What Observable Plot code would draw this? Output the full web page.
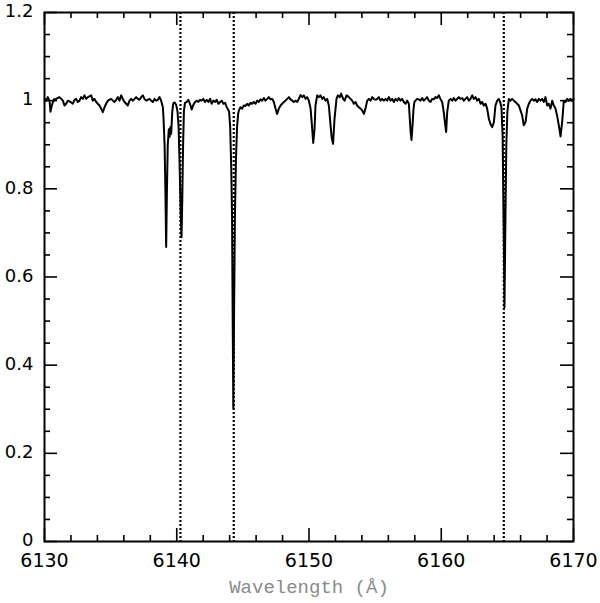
<!DOCTYPE html>
<html><head><meta charset="utf-8">
<script src="https://cdn.jsdelivr.net/npm/d3@7"></script>
<script src="https://cdn.jsdelivr.net/npm/@observablehq/plot@0.6"></script>
<style>body{margin:0;background:#fff;overflow:hidden}</style>
</head><body><div id="chart"></div>
<script>
const wave = [
6130.00,6130.13,6130.25,6130.38,6130.45,6130.55,6130.71,6130.88,6131.13,6131.26,6131.39,6131.51,6131.64,6131.76,6131.97,6132.14,6132.27,6132.39,6132.52,6132.65,6132.77,6132.90,6133.02,6133.15,6133.28,6133.53,6133.65,6133.78,6133.91,6134.03,6134.16,6134.28,6134.41,6134.54,6134.66,6134.79,6135.04,6135.17,6135.29,6135.42,6135.55,6135.67,6135.80,6135.92,6136.05,6136.18,6136.30,6136.43,6136.55,6136.68,6136.81,6136.93,6137.06,6137.18,6137.31,6137.44,6137.56,6137.69,6137.81,6137.94,6138.07,6138.19,6138.32,6138.44,6138.57,6138.70,6138.82,6138.95,
6139.00,6139.08,6139.14,6139.20,6139.26,6139.32,6139.40,6139.46,6139.52,6139.58,6139.66,6139.74,6139.84,6139.96,6140.06,
6140.14,6140.22,6140.30,6140.36,6140.42,6140.48,6140.54,6140.62,
6140.75,6140.88,6141.00,6141.13,6141.25,6141.38,6141.50,6141.63,6141.76,6141.88,6142.01,6142.14,6142.26,6142.39,6142.52,6142.64,6142.77,6142.90,6143.02,6143.15,6143.28,6143.40,6143.53,6143.66,6143.78,6143.88,
6143.96,6144.04,6144.12,6144.18,6144.23,6144.28,6144.33,6144.40,6144.48,6144.56,6144.64,
6144.70,6144.82,6144.95,6145.07,6145.20,6145.33,6145.45,6145.58,6145.70,6145.83,6145.96,6146.08,6146.21,6146.33,6146.46,6146.59,6146.71,6146.84,6146.96,6147.09,6147.22,6147.34,6147.47,6147.59,6147.72,6147.85,6147.97,6148.10,6148.22,6148.35,6148.48,6148.60,6148.73,6148.86,6148.98,6149.11,6149.23,6149.36,6149.49,6149.61,6149.74,6149.86,6149.99,
6150.12,6150.22,6150.32,6150.42,6150.49,6150.62,6150.75,6150.87,6151.00,6151.12,6151.25,6151.38,6151.50,6151.63,6151.72,6151.82,6151.93,6152.08,6152.18,6152.33,6152.43,6152.58,6152.69,6152.84,6153.01,6153.14,6153.27,6153.39,6153.52,6153.64,6153.77,6153.90,6154.02,6154.15,6154.27,6154.40,6154.53,6154.65,6154.78,6154.90,6155.03,6155.16,6155.28,6155.41,6155.53,6155.66,6155.79,6155.91,6156.04,6156.16,6156.29,6156.42,6156.54,
6156.67,6156.79,6156.92,6157.04,6157.17,6157.30,6157.42,6157.55,6157.62,6157.68,6157.75,6157.82,6157.90,6157.97,6158.05,6158.18,6158.30,6158.43,6158.56,6158.68,6158.81,6158.93,6159.06,6159.19,6159.31,6159.44,6159.56,6159.69,6159.82,6159.94,6160.07,6160.19,6160.28,6160.37,6160.45,6160.57,6160.70,6160.83,6160.95,6161.08,6161.20,6161.33,6161.45,6161.58,6161.71,6161.83,6161.96,6162.09,6162.21,6162.34,6162.46,6162.59,6162.72,6162.84,6162.97,6163.09,6163.22,6163.35,6163.47,6163.60,6163.72,6163.85,6163.98,6164.10,6164.23,6164.35,6164.45,
6164.55,6164.64,6164.72,6164.78,6164.84,6164.92,6165.00,6165.11,6165.24,6165.36,6165.49,6165.61,6165.74,6165.87,6165.99,6166.12,6166.24,6166.37,6166.50,6166.62,6166.75,6166.87,6167.00,6167.13,6167.25,6167.38,6167.50,6167.63,6167.76,6167.88,6168.01,6168.13,6168.26,6168.39,6168.51,6168.64,6168.76,6168.89,6169.02,6169.14,6169.27,6169.39,6169.52,6169.65,6169.77,6169.90,6170.00
];
const flux = [
1.004,1.000,1.008,1.000,0.975,0.989,1.003,1.004,1.008,1.004,1.000,0.989,0.993,1.000,0.997,0.993,1.002,1.004,0.997,1.000,1.008,1.004,1.012,1.004,1.008,1.012,1.000,1.004,0.997,0.993,0.989,0.982,0.974,0.985,0.993,1.000,1.004,1.000,0.997,1.002,1.008,1.000,1.012,1.004,0.997,0.993,0.989,1.000,1.004,1.000,1.004,1.008,1.004,1.002,1.008,1.012,1.004,1.000,1.002,1.004,1.000,0.997,1.004,1.000,1.002,1.008,1.000,0.985,
0.960,0.900,0.800,0.668,0.800,0.900,0.935,0.918,0.940,0.925,0.975,0.994,0.996,0.990,0.975,
0.940,0.850,0.740,0.690,0.780,0.900,0.975,0.995,
0.997,1.002,0.993,0.980,0.990,0.997,1.000,0.997,1.002,1.000,1.004,0.997,1.002,0.997,1.004,0.993,1.000,0.997,1.002,0.993,0.997,1.000,0.993,0.995,0.985,0.980,
0.975,0.940,0.850,0.740,0.500,0.302,0.500,0.740,0.870,0.940,0.970,
0.978,0.985,0.982,0.989,0.988,0.993,0.989,0.995,0.993,0.997,0.993,1.000,0.997,1.003,1.000,1.006,1.000,1.004,1.008,1.003,1.004,0.997,0.982,0.970,0.982,0.989,0.993,0.997,1.000,1.004,1.008,1.003,1.000,0.997,1.000,0.997,1.004,1.013,1.008,1.012,1.004,1.008,1.000,
0.982,0.945,0.904,0.936,0.989,1.012,1.008,1.012,1.004,1.008,1.000,1.004,0.989,0.944,0.915,0.902,0.959,1.004,1.012,1.008,1.016,1.004,1.000,1.012,1.008,1.004,1.000,0.993,0.997,0.989,0.985,0.982,0.978,0.970,0.982,1.000,1.004,1.000,1.008,1.004,1.002,1.004,1.008,1.000,1.004,1.000,1.004,1.000,1.008,1.000,1.004,0.997,1.004,
1.000,1.006,1.000,1.004,0.997,0.993,1.000,0.993,0.960,0.930,0.911,0.940,0.980,0.997,1.000,1.004,1.003,1.000,1.006,1.000,1.004,1.008,1.000,0.997,1.004,1.003,1.008,1.006,1.012,1.004,0.997,0.974,0.950,0.929,0.974,1.000,1.004,1.000,1.006,1.000,1.004,1.008,1.004,1.006,1.000,1.004,1.008,1.000,1.004,1.012,1.004,1.008,1.000,1.004,0.993,0.997,0.989,0.993,0.982,0.959,0.947,0.940,0.951,0.989,1.000,1.004,0.997,
0.985,0.920,0.720,0.531,0.700,0.900,0.975,1.004,1.000,1.004,1.000,0.997,0.993,0.989,0.978,0.966,0.944,0.951,0.982,0.993,1.000,1.004,1.000,1.003,0.997,1.004,1.000,1.004,0.997,1.008,0.989,0.993,0.982,1.000,0.989,0.982,0.966,0.944,0.919,0.951,1.000,0.997,1.004,1.000,1.004,1.000,1.004
];
const markerLines = [6140.28, 6144.31, 6164.73];
const xMajor = [6130, 6140, 6150, 6160, 6170];
const xMinor = [6132,6134,6136,6138,6142,6144,6146,6148,6152,6154,6156,6158,6162,6164,6166,6168];
const yMajor = [0, 0.2, 0.4, 0.6, 0.8, 1, 1.2];
const yMinor = [0.05,0.1,0.15,0.25,0.3,0.35,0.45,0.5,0.55,0.65,0.7,0.75,0.85,0.9,0.95,1.05,1.1,1.15];
const xTitle = "Wavelength (Å)";

const spectrum = wave.map((w, i) => ({w, f: flux[i]}));
const mT = 12, mB = 62, mL = 44, mR = 27, Wd = 600, Ht = 603;
const innerH = Ht - mT - mB, innerW = Wd - mL - mR;
const majorLen = 13, minorLen = 6;

const chart = Plot.plot({
  width: Wd, height: Ht,
  marginTop: mT, marginBottom: mB, marginLeft: mL, marginRight: mR,
  style: {fontFamily: "DejaVu Sans", background: "white", color: "black"},
  x: {domain: [6130, 6170], axis: null},
  y: {domain: [0, 1.2], axis: null},
  marks: [
    Plot.ruleX(markerLines, {stroke: "black", strokeWidth: 2.2, strokeDasharray: "2,2"}),
    Plot.line(spectrum, {x: "w", y: "f", stroke: "black", strokeWidth: 2}),
    Plot.ruleX(xMajor, {stroke: "black", strokeWidth: 1.6, insetTop: innerH - majorLen}),
    Plot.ruleX(xMinor, {stroke: "black", strokeWidth: 1.6, insetTop: innerH - minorLen}),
    Plot.ruleX(xMajor, {stroke: "black", strokeWidth: 1.6, insetBottom: innerH - majorLen}),
    Plot.ruleX(xMinor, {stroke: "black", strokeWidth: 1.6, insetBottom: innerH - minorLen}),
    Plot.ruleY(yMajor, {stroke: "black", strokeWidth: 1.6, insetRight: innerW - majorLen}),
    Plot.ruleY(yMinor, {stroke: "black", strokeWidth: 1.6, insetRight: innerW - minorLen}),
    Plot.ruleY(yMajor, {stroke: "black", strokeWidth: 1.6, insetLeft: innerW - majorLen}),
    Plot.ruleY(yMinor, {stroke: "black", strokeWidth: 1.6, insetLeft: innerW - minorLen}),
    Plot.axisX(xMajor, {anchor: "bottom", tickSize: 0, tickPadding: 12, fontSize: 19, label: null, tickFormat: d => String(d)}),
    Plot.axisY(yMajor, {anchor: "left", tickSize: 0, tickPadding: 11, fontSize: 18, dy: -1, label: null, tickFormat: d => String(d)}),
    Plot.text([xTitle], {frameAnchor: "bottom", dy: 45, lineAnchor: "middle", fontFamily: "Liberation Mono", fontSize: 19, fill: "#8a8a8a"}),
    Plot.frame({stroke: "black", strokeWidth: 2})
  ]
});
document.getElementById("chart").appendChild(chart);
</script>
</body></html>
